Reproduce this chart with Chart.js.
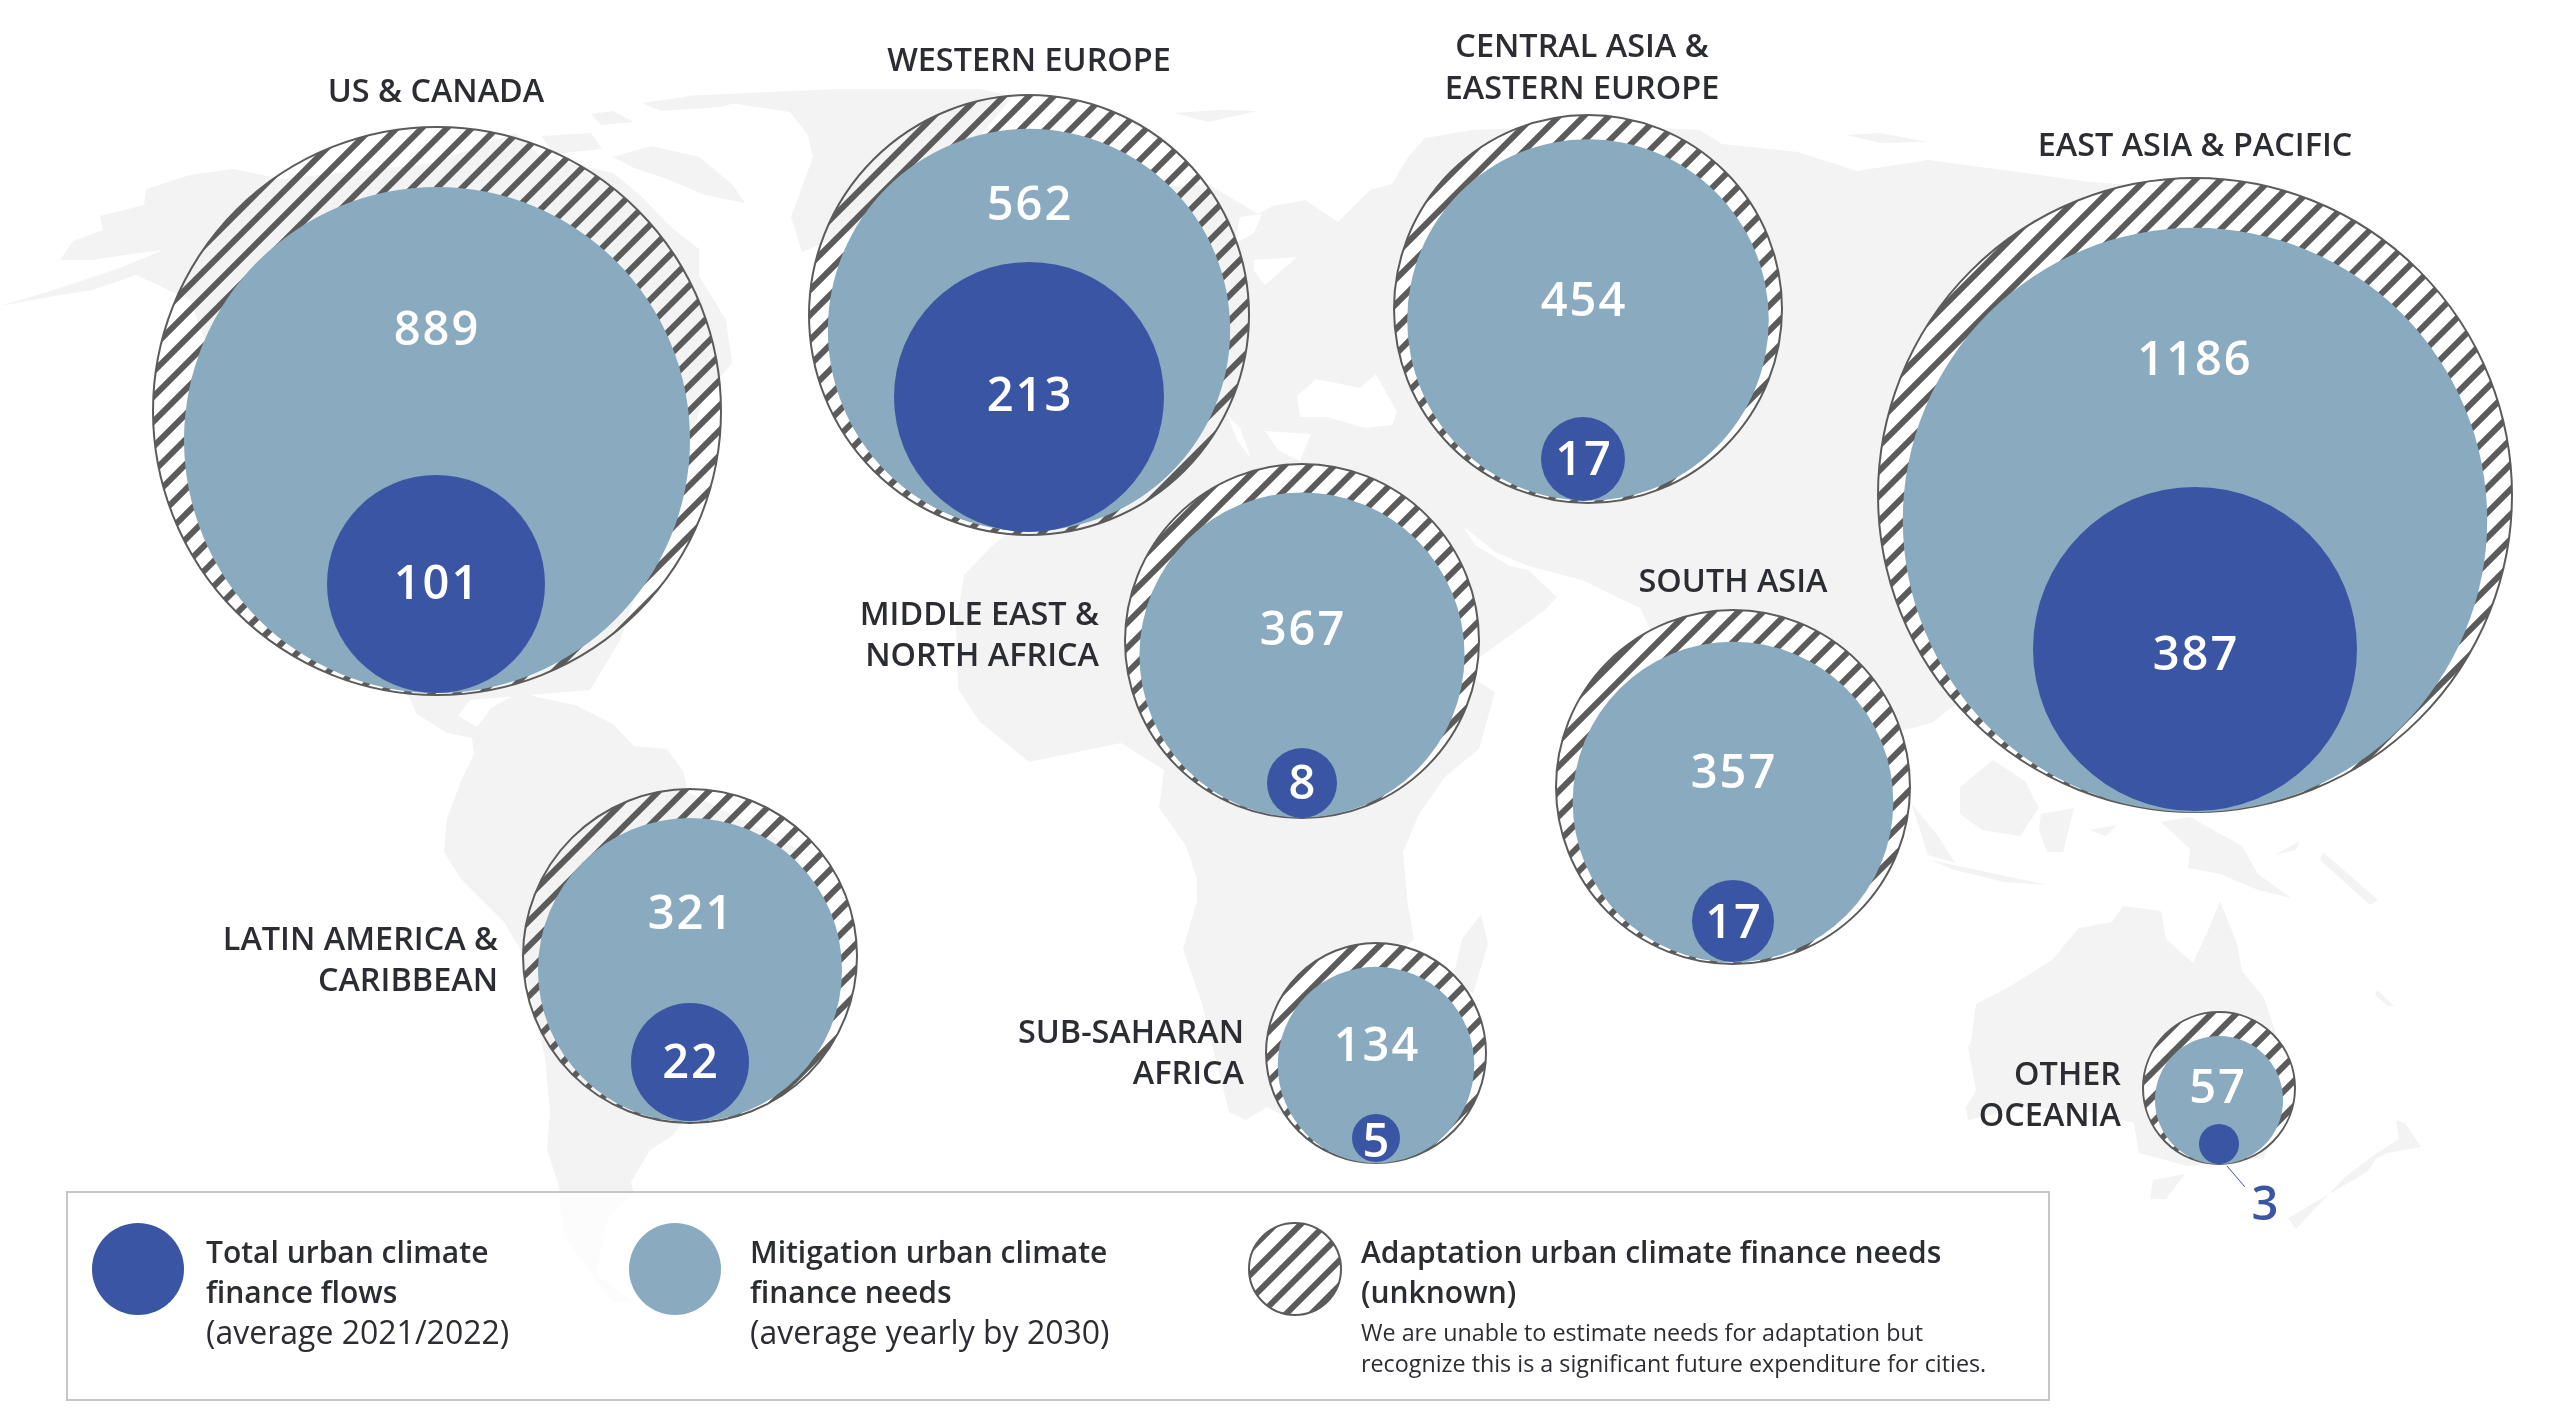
<!DOCTYPE html>
<html>
<head>
<meta charset="utf-8">
<style>
  html, body { margin: 0; padding: 0; background: #fff; }
  canvas { display: block; }
</style>
<script src="https://cdn.jsdelivr.net/npm/chart.js@4"></script>
</head>
<body>
<canvas id="chart" width="2550" height="1420"></canvas>
<script>
// data, USD billion
const regions = ["US & CANADA", "WESTERN EUROPE", "CENTRAL ASIA & EASTERN EUROPE", "MIDDLE EAST & NORTH AFRICA", "SOUTH ASIA", "EAST ASIA & PACIFIC", "LATIN AMERICA & CARIBBEAN", "SUB-SAHARAN AFRICA", "OTHER OCEANIA"];
const mitigationNeeds = [889, 562, 454, 367, 357, 1186, 321, 134, 57];
const financeFlows = [101, 213, 17, 8, 17, 387, 22, 5, 3];

// where each bubble sits on the map
const regionX = [437, 1029, 1588, 1302, 1733, 2195, 690, 1376, 2219];
const ringY = [411, 315, 309, 641, 787, 495, 956, 1053, 1088];
const needsY = [440, 330, 320, 655, 802, 520, 970, 1065, 1100];
const flowsX = [436, 1029, 1583, 1302, 1733, 2195, 690, 1376, 2219];
const flowsY = [584, 397, 459, 783, 921, 649, 1062, 1138, 1144];
const ringR = [284, 220, 194, 177, 177, 317, 167, 110, 76];
const flowsR = [109, 135, 42, 35, 41, 162, 59, 24, 20];
const needsK = 253 / Math.sqrt(889); // needs circles are area-scaled
const ringSeeThrough = [true, true, false, false, false, false, true, false, false];

// label layout: lines, anchor x, y of each line, alignment
const regionLabels = [
    [["US & CANADA"], 436, [93], "center"],
    [["WESTERN EUROPE"], 1029, [62], "center"],
    [["CENTRAL ASIA &", "EASTERN EUROPE"], 1582, [48, 90], "center"],
    [["MIDDLE EAST &", "NORTH AFRICA"], 1099, [616, 657], "right"],
    [["SOUTH ASIA"], 1733, [583], "center"],
    [["EAST ASIA & PACIFIC"], 2195, [147], "center"],
    [["LATIN AMERICA &", "CARIBBEAN"], 498, [941, 982], "right"],
    [["SUB-SAHARAN", "AFRICA"], 1244, [1034, 1075], "right"],
    [["OTHER", "OCEANIA"], 2121, [1076, 1117], "right"],
];
const needsLabelX = [437, 1030, 1584, 1303, 1734, 2195, 691, 1377, 2218];
const needsLabelY = [332, 207, 303, 632, 775, 362, 916, 1048, 1090];
const flowsLabelY = [586, 398, 462, 786, 925, 657, 1065, 1144, 1207];

// world map backdrop, traced roughly, same space as the bubbles
const mapLand = [
    [[0,306],[60,288],[120,268],[163,250],[125,255],[92,260],[60,260],[73,241],[103,230],[100,216],[144,205],[146,189],[190,175],[233,169],[282,179],[434,163],[515,133],[542,157],[613,173],[640,195],[672,228],[699,249],[699,276],[726,320],[732,363],[705,396],[620,640],[607,662],[590,690],[470,700],[458,716],[477,727],[491,708],[520,692],[537,697],[575,705],[613,724],[634,746],[667,749],[683,771],[688,792],[800,850],[780,1000],[672,1136],[650,1150],[631,1182],[634,1193],[607,1220],[596,1275],[634,1302],[612,1302],[580,1258],[564,1237],[558,1183],[547,1150],[550,1112],[545,1058],[520,949],[504,922],[461,879],[444,852],[447,819],[461,781],[474,754],[472,738],[447,733],[417,714],[409,697],[300,600],[190,300],[136,275],[92,290],[54,296]],
    [[1000,200],[1208,184],[1258,214],[1273,206],[1305,200],[1338,222],[1370,190],[1392,184],[1408,157],[1425,138],[1473,130],[1600,125],[1700,130],[1722,144],[1798,152],[1857,171],[1928,160],[2025,173],[2090,182],[2161,187],[2300,230],[2350,500],[2250,650],[2004,738],[1955,705],[1933,722],[1917,727],[1800,750],[1740,900],[1660,650],[1640,608],[1582,580],[1528,566],[1495,552],[1463,526],[1475,545],[1510,566],[1528,570],[1557,597],[1545,610],[1490,650],[1460,670],[1495,692],[1479,749],[1446,776],[1419,814],[1403,852],[1408,906],[1414,939],[1392,960],[1350,1150],[1267,1107],[1246,1120],[1229,1112],[1202,1004],[1183,949],[1197,901],[1197,879],[1186,846],[1159,808],[1164,770],[1148,760],[1121,743],[1067,754],[1029,762],[1013,749],[980,722],[958,689],[956,624],[964,575],[991,547],[1050,500]],
    [[790,112],[683,96],[835,89],[980,89],[1013,96],[958,163],[900,210],[802,252],[791,217],[813,157],[808,135]],
    [[591,114],[613,111],[634,122],[601,125]],
    [[642,103],[699,95],[745,100],[721,107],[661,111]],
    [[542,136],[591,133],[602,149],[553,154]],
    [[613,157],[651,146],[699,157],[732,184],[745,203],[705,195],[667,179],[634,168]],
    [[1175,113],[1218,110],[1257,111],[1208,122]],
    [[1846,135],[1880,133],[1928,142],[1880,143]],
    [[1481,914],[1488,944],[1473,993],[1452,982],[1462,939]],
    [[1960,787],[1993,760],[2025,781],[2039,808],[2020,836],[1982,830],[1960,814]],
    [[1911,803],[1938,836],[1955,863],[1928,855]],
    [[1930,860],[1982,871],[2047,885],[2004,882],[1955,870]],
    [[2041,814],[2074,808],[2063,852],[2047,852],[2039,830]],
    [[2090,830],[2117,825],[2106,836]],
    [[2161,822],[2190,817],[2242,846],[2258,874],[2291,898],[2258,890],[2220,874],[2188,868],[2190,849]],
    [[2323,852],[2378,900],[2370,905],[2320,860]],
    [[2300,841],[2275,855],[2296,850]],
    [[2377,990],[2394,1006],[2388,1006],[2375,995]],
    [[1971,1042],[1976,1004],[2009,987],[2052,960],[2079,928],[2112,922],[2123,906],[2161,911],[2166,939],[2193,963],[2209,928],[2220,901],[2237,944],[2242,971],[2264,998],[2275,1031],[2291,1085],[2264,1158],[2188,1166],[2139,1153],[2134,1123],[2090,1112],[2025,1107],[1968,1120],[1966,1107],[1976,1090],[1968,1047]],
    [[2153,1180],[2185,1174],[2166,1199],[2150,1199]],
    [[2288,1218],[2350,1182],[2367,1172],[2377,1158],[2388,1153],[2421,1147],[2405,1123],[2396,1120],[2399,1139],[2377,1153],[2345,1177],[2296,1229]],
];
const mapWater = [
    [[1300,417],[1297,396],[1316,379],[1360,388],[1376,374],[1397,412],[1392,425],[1365,428],[1327,417]],
    [[1227,415],[1240,428],[1251,458],[1238,442]],
    [[1265,431],[1311,434],[1300,461],[1278,450]],
    [[1240,217],[1262,214],[1254,233],[1235,244]],
    [[1254,260],[1297,257],[1265,285],[1254,271]],
];

// legend
const legendKeys = [[138, 1269, 46, "#3955a3"], [675, 1269, 46, "#8aaabf"], [1295, 1269, 46, null]];
const legendTexts = [
    ["Total urban climate", 206, 1254, 0],
    ["finance flows", 206, 1294, 0],
    ["(average 2021/2022)", 206, 1335, 1],
    ["Mitigation urban climate", 750, 1254, 0],
    ["finance needs", 750, 1294, 0],
    ["(average yearly by 2030)", 750, 1335, 1],
    ["Adaptation urban climate finance needs", 1361, 1254, 0],
    ["(unknown)", 1361, 1294, 0],
    ["We are unable to estimate needs for adaptation but", 1361, 1334, 2],
    ["recognize this is a significant future expenditure for cities.", 1361, 1365, 2],
];

const FONT = '"Open Sans", sans-serif';
const DARK = "#3955a3", LIGHT = "#8aaabf", STRIPE = "#5b5b5b", INK = "#2b2d33";

function makeHatch(base) {
    let tile = document.createElement("canvas");
    tile.width = 25;
    tile.height = 25;
    let c = tile.getContext("2d");
    if (base) {
        c.fillStyle = base;
        c.fillRect(0, 0, 25, 25);
    }
    c.strokeStyle = STRIPE;
    c.lineWidth = 6;
    [0, 25, 50].forEach(s => {
        c.beginPath();
        c.moveTo(s + 5, -5);
        c.lineTo(s - 30, 30);
        c.stroke();
    });
    return c.createPattern(tile, "repeat");
}

const hatchWhite = makeHatch("#fff");
const hatchClear = makeHatch(null);

const backdrop = {
    id: "backdrop",
    beforeDatasetsDraw(chart) {
        const { ctx, scales: { x, y } } = chart;
        const fillPolys = (polys, colour) => {
            ctx.fillStyle = colour;
            polys.forEach(poly => {
                ctx.beginPath();
                poly.forEach((p, i) => {
                    if (i === 0) ctx.moveTo(x.getPixelForValue(p[0]), y.getPixelForValue(p[1]));
                    else ctx.lineTo(x.getPixelForValue(p[0]), y.getPixelForValue(p[1]));
                });
                ctx.closePath();
                ctx.fill();
            });
        };
        ctx.save();
        fillPolys(mapLand, "#f3f3f3");
        fillPolys(mapWater, "#ffffff");

        // legend box lies over the map
        const bx = x.getPixelForValue(67), by = y.getPixelForValue(1192);
        const bw = x.getPixelForValue(2049) - bx, bh = y.getPixelForValue(1400) - by;
        ctx.fillStyle = "rgba(255,255,255,0.75)";
        ctx.fillRect(bx, by, bw, bh);
        ctx.strokeStyle = "#c6c6c6";
        ctx.lineWidth = 2;
        ctx.strokeRect(bx, by, bw, bh);
        ctx.restore();
    },
};

const labels = {
    id: "labels",
    afterDatasetsDraw(chart) {
        const { ctx, scales: { x, y } } = chart;
        ctx.save();
        ctx.textBaseline = "middle";

        ctx.fillStyle = INK;
        ctx.font = "600 32.4px " + FONT;
        regionLabels.forEach(([lines, lx, ly, align]) => {
            ctx.textAlign = align;
            lines.forEach((line, i) => ctx.fillText(line, x.getPixelForValue(lx), y.getPixelForValue(ly[i])));
        });

        ctx.textAlign = "center";
        ctx.fillStyle = "#fff";
        ctx.font = "600 47px " + FONT;
        ctx.letterSpacing = "2px";
        mitigationNeeds.forEach((v, i) => {
            ctx.fillText(v, x.getPixelForValue(needsLabelX[i]), y.getPixelForValue(needsLabelY[i]));
        });
        financeFlows.forEach((v, i) => {
            ctx.fillStyle = v === 3 ? DARK : "#fff";
            let fx = v === 3 ? 2266 : flowsX[i] + 1;
            ctx.fillText(v, x.getPixelForValue(fx), y.getPixelForValue(flowsLabelY[i]));
        });
        ctx.letterSpacing = "0px";

        // leader for the smallest flow
        ctx.strokeStyle = DARK;
        ctx.lineWidth = 1;
        ctx.beginPath();
        ctx.moveTo(x.getPixelForValue(2227), y.getPixelForValue(1166));
        ctx.lineTo(x.getPixelForValue(2245), y.getPixelForValue(1187));
        ctx.stroke();

        ctx.textAlign = "left";
        legendTexts.forEach(([t, lx, ly, kind]) => {
            ctx.fillStyle = INK;
            ctx.font = kind === 0 ? "600 30px " + FONT : kind === 1 ? "400 32px " + FONT : "400 23.3px " + FONT;
            ctx.fillText(t, x.getPixelForValue(lx), y.getPixelForValue(ly));
        });
        ctx.restore();
    },
};

new Chart(document.getElementById("chart"), {
    type: "bubble",
    data: {
        labels: regions,
        datasets: [
            {
                label: "Total urban climate finance flows",
                data: financeFlows.map((v, i) => ({ x: flowsX[i], y: flowsY[i], r: flowsR[i] })),
                backgroundColor: DARK,
                borderWidth: 0,
            },
            {
                label: "Mitigation urban climate finance needs",
                data: mitigationNeeds.map((v, i) => ({ x: regionX[i], y: needsY[i], r: needsK * Math.sqrt(v) })),
                backgroundColor: LIGHT,
                borderWidth: 0,
            },
            {
                label: "Adaptation urban climate finance needs (unknown)",
                data: regions.map((name, i) => ({ x: regionX[i], y: ringY[i], r: ringR[i] })),
                backgroundColor: ringSeeThrough.map(s => s ? hatchClear : hatchWhite),
                borderColor: STRIPE,
                borderWidth: 2,
            },
            {
                label: "legend keys",
                data: legendKeys.map(k => ({ x: k[0], y: k[1], r: k[2] })),
                backgroundColor: legendKeys.map(k => k[3] || hatchWhite),
                borderColor: legendKeys.map(k => k[3] ? k[3] : STRIPE),
                borderWidth: legendKeys.map(k => k[3] ? 0 : 2),
            },
        ],
    },
    options: {
        responsive: false,
        devicePixelRatio: 1,
        animation: false,
        events: [],
        layout: { autoPadding: false, padding: 0 },
        plugins: { legend: { display: false }, tooltip: { enabled: false } },
        scales: {
            x: { type: "linear", display: false, min: 0, max: 2550 },
            y: { type: "linear", display: false, min: 0, max: 1420, reverse: true },
        },
    },
    plugins: [backdrop, labels],
});
</script>
</body>
</html>
